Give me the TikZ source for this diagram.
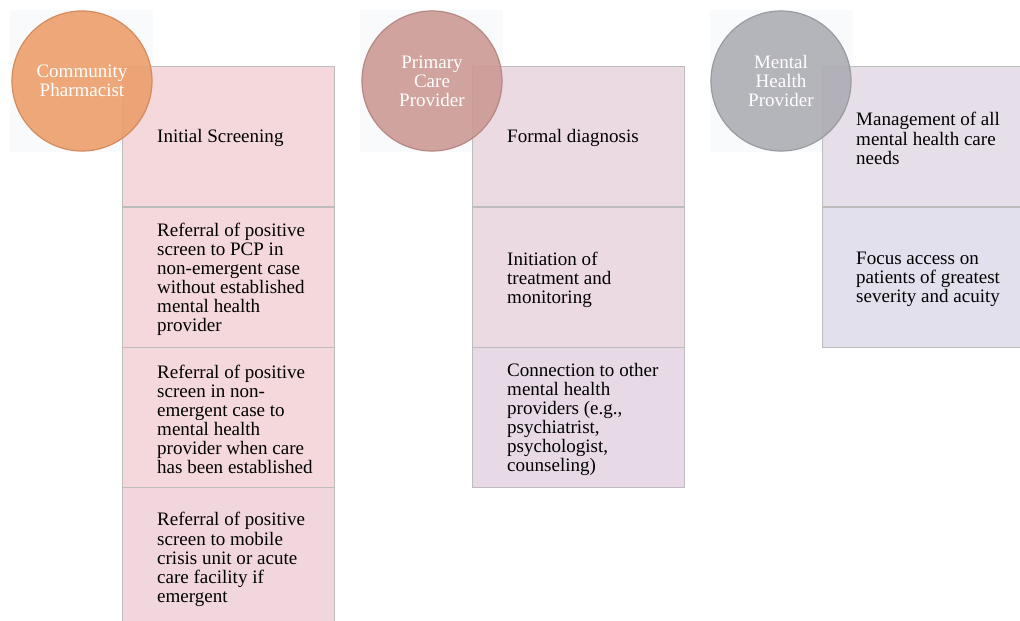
\documentclass[tikz,border=0pt]{standalone}
\usepackage{fontspec}
\setmainfont{Liberation Serif}
\definecolor{pharmorange}{HTML}{EC9C68}
\definecolor{pcprose}{HTML}{CB9792}
\definecolor{mhpgrey}{HTML}{ABABB3}
\definecolor{pinkbox}{HTML}{F4D8DC}
\definecolor{pinkboxb}{HTML}{F1D6DE}
\definecolor{mauvebox}{HTML}{ECDAE3}
\definecolor{mauveboxb}{HTML}{E7DAE6}
\definecolor{lilacbox}{HTML}{E6DFE9}
\definecolor{lilacboxb}{HTML}{E2E0EC}
\definecolor{boxline}{HTML}{BDBDBD}
\definecolor{haze}{HTML}{F9FAFC}

\begin{document}
\begin{tikzpicture}[x=1bp, y=-1bp]

\tikzset{
stage/.style = {circle, minimum size = 140bp, inner sep = 0pt, line width = 1.2pt, fill opacity = 0.88, text opacity = 1, text = white, align = center, font = \fontsize{19.1}{19.1}\selectfont},
task/.style = {rectangle, draw = boxline, line width = 0.8pt, minimum width = 212bp, minimum height = 140bp, anchor = north west, inner sep = 0pt},
tasktext/.style = {anchor = west, align = left, inner sep = 0pt, yshift = -2bp, font = \fontsize{19.1}{19.1}\selectfont},
	}

\useasboundingbox (0, 0) rectangle (1020, 621);
\clip (0, 0) rectangle (1020, 621);

% Haze behind circles
\fill [haze] (10, 10) rectangle (153, 152);
\fill [haze] (360, 10) rectangle (503, 152);
\fill [haze] (710, 10) rectangle (853, 152);

% Community pharmacist
\node at (122, 66) [task, fill = pinkbox] (cp1) {};
\node at (122, 207) [task, fill = pinkbox] (cp2) {};
\node at (122, 347) [task, fill = pinkbox] (cp3) {};
\node at (122, 487) [task, fill = pinkboxb] (cp4) {};

\node at ([xshift = 35bp]cp1.west) [tasktext] (cp1t) {Initial Screening};
\node at ([xshift = 35bp]cp2.west) [tasktext] (cp2t) {Referral of positive\\screen to PCP in\\non-emergent case\\without established\\mental health\\provider};
\node at ([xshift = 35bp]cp3.west) [tasktext] (cp3t) {Referral of positive\\screen in non-\\emergent case to\\mental health\\provider when care\\has been established};
\node at ([xshift = 35bp]cp4.west) [tasktext] (cp4t) {Referral of positive\\screen to mobile\\crisis unit or acute\\care facility if\\emergent};

% Primary care provider
\node at (472, 66) [task, fill = mauvebox] (pcp1) {};
\node at (472, 207) [task, fill = mauvebox] (pcp2) {};
\node at (472, 347) [task, fill = mauveboxb] (pcp3) {};

\node at ([xshift = 35bp]pcp1.west) [tasktext] (pcp1t) {Formal diagnosis};
\node at ([xshift = 35bp]pcp2.west) [tasktext] (pcp2t) {Initiation of\\treatment and\\monitoring};
\node at ([xshift = 35bp]pcp3.west) [tasktext] (pcp3t) {Connection to other\\mental health\\providers (e.g.,\\psychiatrist,\\psychologist,\\counseling)};

% Mental health provider
\node at (822, 66) [task, fill = lilacbox] (mhp1) {};
\node at (822, 207) [task, fill = lilacboxb] (mhp2) {};

\node at ([xshift = 34bp]mhp1.west) [tasktext] (mhp1t) {Management of all\\mental health care\\needs};
\node at ([xshift = 34bp]mhp2.west) [tasktext] (mhp2t) {Focus access on\\patients of greatest\\severity and acuity};

% Circles
\node at (82, 81) [stage, fill = pharmorange, draw = pharmorange!90!black] (cp) {Community\\Pharmacist};
\node at (432, 81) [stage, fill = pcprose, draw = pcprose!90!black] (pcp) {Primary\\Care\\Provider};
\node at (781, 81) [stage, fill = mhpgrey, draw = mhpgrey!90!black] (mhp) {Mental\\Health\\Provider};

\end{tikzpicture}
\end{document}
